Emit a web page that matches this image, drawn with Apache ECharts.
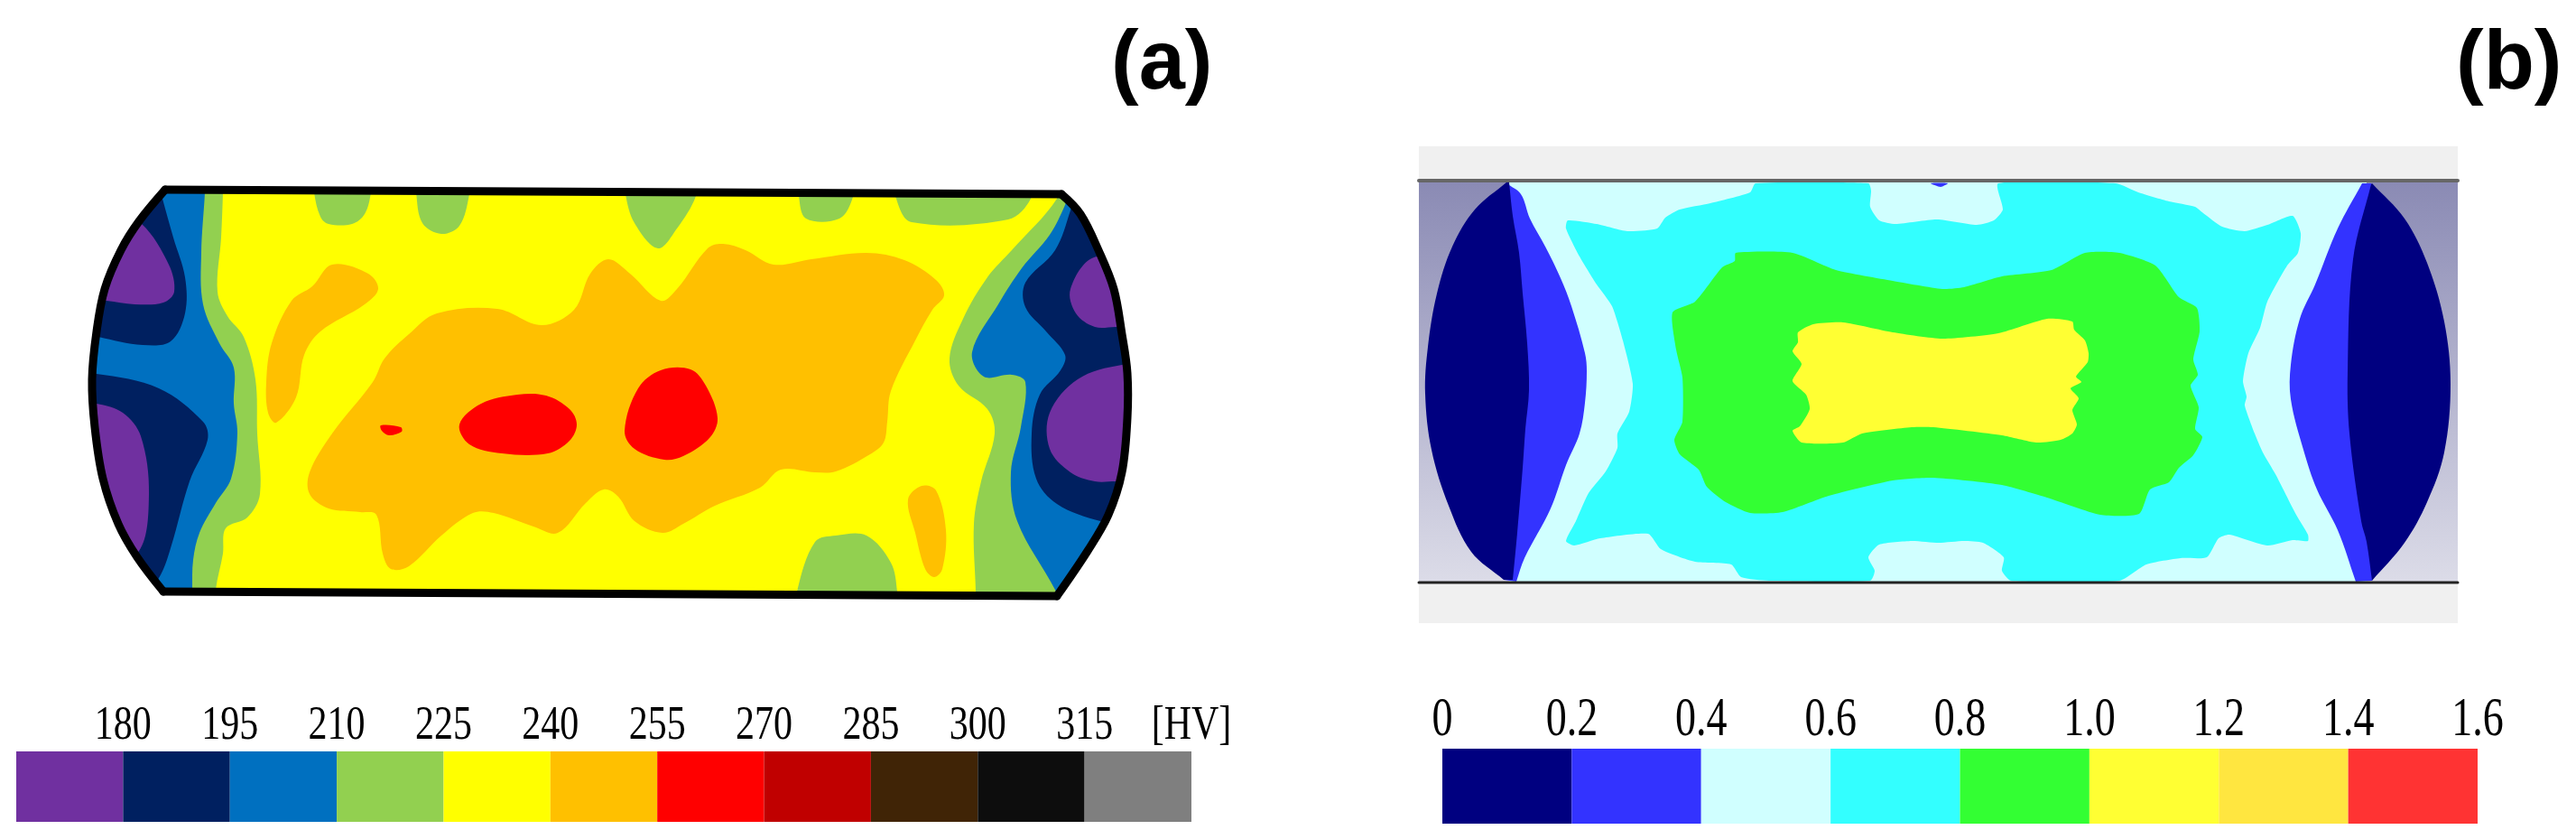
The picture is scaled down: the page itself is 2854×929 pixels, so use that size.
<!DOCTYPE html>
<html>
<head>
<meta charset="utf-8">
<style>html,body{margin:0;background:#fff}#main{width:2854px;height:929px}</style>
<script src="https://cdn.jsdelivr.net/npm/echarts@6/dist/echarts.min.js"></script>
</head>
<body>
<div id="main"></div>
<script>
// colour scale (a), hardness in HV
var hvEdges = [165, 180, 195, 210, 225, 240, 255, 270, 285, 300, 315, 330];
var hvColors = ['#7030a0', '#002060', '#0070c0', '#92d050', '#ffff00', '#ffc000', '#ff0000', '#c00000', '#402406', '#0d0d0d', '#7f7f7f'];
var hvTicks = [180, 195, 210, 225, 240, 255, 270, 285, 300, 315, 330];
var hvTickLabels = ['180', '195', '210', '225', '240', '255', '270', '285', '300', '315', '[HV]'];
// colour scale (b)
var bEdges = [0, 0.2, 0.4, 0.6, 0.8, 1.0, 1.2, 1.4, 1.6];
var bColors = ['#000080', '#3333ff', '#d0ffff', '#33ffff', '#33ff33', '#ffff33', '#ffe640', '#ff3333'];
var bTicks = [0, 0.2, 0.4, 0.6, 0.8, 1.0, 1.2, 1.4, 1.6];
var bTickLabels = ['0', '0.2', '0.4', '0.6', '0.8', '1.0', '1.2', '1.4', '1.6'];

// specimen outline (a)
var arcRight = [[1176,215],[1197,237],[1217,277],[1234,320],[1243,370],[1249,413],[1249,463],[1243,523],[1228,570],[1205,610],[1171,660]];
var arcLeft = [[183,210],[154,245],[134,277],[116,320],[107,367],[102,420],[105,473],[114,530],[131,580],[152,617],[181,655]];

// contour bands (a)
var aGreenLeft = [[247,200],[247,213],[245,263],[241,323],[252,350],[270,373],[283,420],[285,480],[288,547],[274,573],[250,585],[247,613],[239,653],[239,680],[60,680],[60,200]];
var aBlueLeft = [[227,200],[227,213],[223,280],[225,337],[243,380],[259,407],[259,447],[263,480],[256,530],[239,557],[221,590],[214,620],[213,653],[213,680],[60,680],[60,200]];
var aNavyTop = [[175,200],[180,220],[192,263],[205,307],[205,347],[189,378],[158,382],[109,373],[60,360],[60,200]];
var aPurpleTop = [[157,248],[187,293],[193,323],[181,335],[149,337],[118,333],[90,333],[120,230]];
var aNavyBottom = [[107,414],[176,430],[225,467],[230,487],[210,533],[189,607],[176,640],[150,670],[60,670],[60,414]];
var aPurpleBottom = [[107,447],[136,457],[156,483],[165,547],[154,610],[120,610],[80,447]];
var aOrangeLeft = [[368,293],[408,303],[419,320],[404,337],[355,367],[337,393],[328,440],[306,468],[297,457],[295,423],[301,380],[323,333],[346,317]];
var aOrangeMain = [[484,347],[551,342],[600,360],[636,343],[654,303],[674,287],[698,303],[732,333],[750,320],[784,275],[801,270],[826,277],[857,293],[899,287],[960,280],[1002,288],[1037,310],[1046,327],[1033,343],[1014,377],[987,433],[983,467],[979,490],[964,503],[926,522],[903,523],[865,520],[842,540],[792,560],[757,580],[734,590],[703,577],[685,550],[669,542],[649,557],[618,590],[591,583],[547,568],[524,568],[489,593],[453,627],[433,630],[424,613],[417,570],[399,567],[364,563],[343,547],[343,523],[368,480],[413,423],[426,397],[453,370]];
var aOrangeSmall = [[1006,553],[1021,538],[1037,543],[1048,587],[1044,630],[1035,639],[1025,630],[1014,590]];
var aRedDot = [[422,471],[444,473],[445,478],[431,482],[423,477]];
var aRedOne = [[509,470],[533,447],[573,437],[605,438],[631,453],[639,470],[631,488],[607,502],[556,502],[520,492]];
var aRedTwo = [[692,477],[707,430],[732,410],[765,409],[782,427],[795,463],[786,485],[757,505],[736,509],[703,497]];
var aGreenTop1 = [[348,195],[348,213],[355,240],[364,248],[390,248],[404,237],[411,213],[411,195]];
var aGreenTop2 = [[461,195],[461,213],[468,247],[489,259],[509,250],[520,215],[520,195]];
var aGreenTop3 = [[693,195],[693,215],[703,247],[729,275],[750,253],[771,217],[771,195]];
var aGreenTop4 = [[885,195],[885,217],[893,242],[930,242],[945,218],[945,195]];
var aGreenTop5 = [[993,195],[993,220],[1010,246],[1117,243],[1142,220],[1142,195]];
var aGreenBottom = [[883,680],[883,655],[903,600],[926,593],[960,593],[987,623],[994,655],[994,680]];
var aGreenRight = [[1171,220],[1121,277],[1094,307],[1067,353],[1052,397],[1062,427],[1094,453],[1102,480],[1087,533],[1079,580],[1081,655],[1081,680],[1290,680],[1290,200],[1171,200]];
var aBlueRight = [[1180,227],[1163,260],[1132,297],[1106,337],[1077,390],[1090,417],[1121,415],[1136,423],[1131,473],[1120,523],[1127,577],[1169,653],[1180,680],[1290,680],[1290,200],[1190,200]];
var aNavyRight = [[1186,233],[1169,277],[1136,313],[1136,340],[1159,367],[1180,393],[1175,410],[1152,437],[1143,480],[1148,530],[1171,558],[1219,577],[1290,590],[1290,200],[1195,200]];
var aPurpleRight1 = [[1212,285],[1186,320],[1192,347],[1213,362],[1236,362],[1280,362],[1280,285]];
var aPurpleRight2 = [[1243,404],[1194,420],[1163,457],[1163,497],[1186,523],[1213,533],[1236,533],[1290,533],[1290,404]];

// contour bands (b)
var bFrame = [[1572,162],[2723,162],[2723,690],[1572,690]];
var bBand = [[1572,200],[2723,200],[2723,645],[1572,645]];
var bPale = [[1672,202],[2622,202],[2622,644],[1672,644]];
var bCyan = [[1945,203],[1939,213],[1895,225],[1861,232],[1845,241],[1836,253],[1803,256],[1769,248],[1737,244],[1735,253],[1750,284],[1769,315],[1786,339],[1798,377],[1809,425],[1805,456],[1792,480],[1792,496],[1779,522],[1760,546],[1746,577],[1735,599],[1744,604],[1773,596],[1826,591],[1840,608],[1878,622],[1918,625],[1929,639],[1960,643],[2072,643],[2077,632],[2070,617],[2082,603],[2118,599],[2148,601],[2176,599],[2197,601],[2220,617],[2218,632],[2228,643],[2348,643],[2378,625],[2416,618],[2445,617],[2458,596],[2470,592],[2512,604],[2540,598],[2557,599],[2557,592],[2544,570],[2521,525],[2507,501],[2498,480],[2487,449],[2489,439],[2485,422],[2491,391],[2504,363],[2512,334],[2534,294],[2546,280],[2549,258],[2540,239],[2512,249],[2487,256],[2462,251],[2441,236],[2432,229],[2403,223],[2369,213],[2344,203],[2214,203],[2219,232],[2209,244],[2190,249],[2146,243],[2100,248],[2082,244],[2072,229],[2073,211],[2070,203]];
var bGreen = [[1923,280],[1986,280],[2034,299],[2097,311],[2152,320],[2176,318],[2218,306],[2273,299],[2310,280],[2348,280],[2388,294],[2414,329],[2434,341],[2437,367],[2430,398],[2435,415],[2427,427],[2436,451],[2432,475],[2440,484],[2430,504],[2414,518],[2403,534],[2382,542],[2370,569],[2327,570],[2268,551],[2218,537],[2142,529],[2097,532],[2026,549],[1975,567],[1939,568],[1912,556],[1891,539],[1882,520],[1861,503],[1855,487],[1864,467],[1864,418],[1857,387],[1853,346],[1878,334],[1908,296],[1922,289]];
var bYellow = [[1992,368],[2009,359],[2042,357],[2097,368],[2152,375],[2214,369],[2268,353],[2296,356],[2298,365],[2310,377],[2314,391],[2313,401],[2300,417],[2306,423],[2294,430],[2303,441],[2296,454],[2301,470],[2296,480],[2283,487],[2256,490],[2218,482],[2142,473],[2118,473],[2063,480],[2042,490],[1996,490],[1986,477],[1994,472],[2005,453],[2001,437],[1986,422],[1996,403],[1986,389],[1992,379]];
var bNib = [[2139,203],[2150,207],[2158,203]];
// tips of the lenses are listed twice to keep them pointed when smoothed
var bBlueLeft = [[1669,203],[1669,203],[1685,215],[1695,242],[1712,273],[1729,308],[1741,339],[1756,391],[1758,411],[1756,446],[1750,480],[1735,515],[1718,563],[1689,618],[1680,644],[1680,644],[1666,642],[1666,642]];
var bBlueRight = [[2617,203],[2617,203],[2590,253],[2565,315],[2548,353],[2538,404],[2538,442],[2552,498],[2567,542],[2590,587],[2610,644],[2610,644],[2628,643],[2628,643],[2627,203],[2627,203]];
var bNavyLeft = [[1669,202],[1669,202],[1634,232],[1609,273],[1592,325],[1582,384],[1579,436],[1586,498],[1605,560],[1630,611],[1666,642],[1666,642],[1676,642],[1676,642],[1681,590],[1687,518],[1690,475],[1694,432],[1692,380],[1687,325],[1683,280],[1676,239],[1672,202],[1672,202]];
var bNavyRight = [[2628,203],[2628,203],[2664,242],[2689,291],[2708,356],[2715,425],[2708,501],[2689,556],[2664,601],[2628,643],[2628,643],[2622,600],[2616,577],[2603,480],[2601,411],[2607,287],[2627,204],[2627,204]];
var bLineTop = [[1572,200],[2723,200]];
var bLineBottom = [[1572,645],[2723,645]];

var myChart = echarts.init(document.getElementById('main'));

// white sheet with a hole in the shape of the specimen, hides the overshoot of the bands
var outline = arcRight.concat(arcLeft.slice().reverse());
var maskBox = [[0,140],[1427,140],[1427,760],[0,760]];
var reversed = outline.slice().reverse();
var aMask = maskBox.concat([maskBox[0]], reversed, [reversed[0]]);

var layersA = [
    {pts: aGreenLeft, fill: '#92d050'}, {pts: aBlueLeft, fill: '#0070c0'},
    {pts: aNavyTop, fill: '#002060'}, {pts: aPurpleTop, fill: '#7030a0'},
    {pts: aNavyBottom, fill: '#002060'}, {pts: aPurpleBottom, fill: '#7030a0'},
    {pts: aGreenRight, fill: '#92d050'}, {pts: aBlueRight, fill: '#0070c0'},
    {pts: aNavyRight, fill: '#002060'}, {pts: aPurpleRight1, fill: '#7030a0'}, {pts: aPurpleRight2, fill: '#7030a0'},
    {pts: aGreenTop1, fill: '#92d050'}, {pts: aGreenTop2, fill: '#92d050'}, {pts: aGreenTop3, fill: '#92d050'},
    {pts: aGreenTop4, fill: '#92d050'}, {pts: aGreenTop5, fill: '#92d050'}, {pts: aGreenBottom, fill: '#92d050'},
    {pts: aOrangeLeft, fill: '#ffc000'}, {pts: aOrangeMain, fill: '#ffc000'}, {pts: aOrangeSmall, fill: '#ffc000'},
    {pts: aRedDot, fill: '#ff0000'}, {pts: aRedOne, fill: '#ff0000'}, {pts: aRedTwo, fill: '#ff0000'}
];

var bandFill = new echarts.graphic.LinearGradient(0, 0, 0, 1, [
    {offset: 0, color: '#8a8ab4'},
    {offset: 1, color: '#dcdce8'}
]);
var layersBack = [
    {pts: bFrame, fill: '#f0f0f0'}, {pts: bBand, fill: bandFill}, {pts: bPale, fill: '#d0ffff'}
];
var layersB = [
    {pts: bCyan, fill: '#33ffff'}, {pts: bGreen, fill: '#33ff33'}, {pts: bYellow, fill: '#ffff33'}, {pts: bNib, fill: '#3333ff'}
];
var layersLens = [
    {pts: bBlueLeft, fill: '#3333ff'}, {pts: bBlueRight, fill: '#3333ff'},
    {pts: bNavyLeft, fill: '#000080'}, {pts: bNavyRight, fill: '#000080'}
];

function bandSeries(layers, axisIndex, smooth) {
    return {
        type: 'custom',
        xAxisIndex: axisIndex,
        yAxisIndex: axisIndex,
        silent: true,
        data: layers.map(function (l, i) { return [i]; }),
        renderItem: function (params, api) {
            var l = layers[params.dataIndex];
            return {
                type: 'polygon',
                shape: {points: l.pts.map(function (p) { return api.coord(p); }), smooth: smooth, smoothConstraint: false},
                style: {fill: l.fill}
            };
        }
    };
}

function lineSeries(lines, axisIndex, color, width, smooth) {
    return {
        type: 'custom',
        xAxisIndex: axisIndex,
        yAxisIndex: axisIndex,
        silent: true,
        data: lines.map(function (l, i) { return [i]; }),
        renderItem: function (params, api) {
            return {
                type: 'polyline',
                shape: {points: lines[params.dataIndex].map(function (p) { return api.coord(p); }), smooth: smooth, smoothConstraint: false},
                style: {fill: null, stroke: color, lineWidth: width, lineCap: 'round'}
            };
        }
    };
}

function scaleSeries(edges, colors, axisIndex) {
    return {
        type: 'custom',
        xAxisIndex: axisIndex,
        yAxisIndex: axisIndex,
        silent: true,
        data: colors.map(function (c, i) { return [edges[i], edges[i + 1]]; }),
        renderItem: function (params, api) {
            var a = api.coord([api.value(0), 0]);
            var b = api.coord([api.value(1), 1]);
            return {
                type: 'rect',
                shape: {x: a[0], y: b[1], width: b[0] - a[0], height: a[1] - b[1]},
                style: {fill: colors[params.dataIndex]}
            };
        }
    };
}

// the printed tick labels are tall and narrow, so they are stretched upward
function tickSeries(ticks, labels, axisIndex, fontSize, stretch, gap) {
    return {
        type: 'custom',
        xAxisIndex: axisIndex,
        yAxisIndex: axisIndex,
        silent: true,
        data: ticks.map(function (t) { return [t]; }),
        renderItem: function (params, api) {
            var p = api.coord([api.value(0), 1]);
            return {
                type: 'text',
                x: p[0],
                y: p[1] - gap,
                scaleY: stretch,
                style: {
                    text: labels[params.dataIndex],
                    x: 0,
                    y: 0,
                    align: 'center',
                    verticalAlign: 'bottom',
                    fontFamily: 'Liberation Serif',
                    fontSize: fontSize,
                    fill: '#000'
                }
            };
        }
    };
}

option = {
    animation: false,
    backgroundColor: '#fff',
    title: [
        {text: '(a)', left: 1226, top: 22, textStyle: {fontFamily: 'Liberation Sans', fontWeight: 'bold', fontSize: 92, color: '#000'}},
        {text: '(b)', left: 2716, top: 22, textStyle: {fontFamily: 'Liberation Sans', fontWeight: 'bold', fontSize: 92, color: '#000'}}
    ],
    grid: [
        {left: 0, top: 0, width: 1427, height: 929},
        {left: 1427, top: 0, width: 1427, height: 929},
        {left: 18, top: 832, width: 1302, height: 78},
        {left: 1598, top: 829, width: 1147, height: 83}
    ],
    xAxis: [
        {gridIndex: 0, type: 'value', min: 0, max: 1427, show: false},
        {gridIndex: 1, type: 'value', min: 1427, max: 2854, show: false},
        {gridIndex: 2, type: 'value', min: 165, max: 330, interval: 15, show: false},
        {gridIndex: 3, type: 'value', min: 0, max: 1.6, interval: 0.2, show: false}
    ],
    yAxis: [
        {gridIndex: 0, type: 'value', min: 0, max: 929, inverse: true, show: false},
        {gridIndex: 1, type: 'value', min: 0, max: 929, inverse: true, show: false},
        {gridIndex: 2, type: 'value', min: 0, max: 1, show: false},
        {gridIndex: 3, type: 'value', min: 0, max: 1, show: false}
    ],
    series: [
        bandSeries([{pts: outline, fill: '#ffff00'}], 0, 0),
        bandSeries(layersA, 0, 0.35),
        bandSeries([{pts: aMask, fill: '#fff'}], 0, 0),
        lineSeries([arcLeft, arcRight], 0, '#000', 9, 0.35),
        lineSeries([[arcLeft[0], arcRight[0]], [arcLeft[arcLeft.length - 1], arcRight[arcRight.length - 1]]], 0, '#000', 9, 0),
        bandSeries(layersBack, 1, 0),
        bandSeries(layersB, 1, 0.2),
        bandSeries(layersLens, 1, 0.35),
        lineSeries([bLineTop], 1, '#666', 4, 0),
        lineSeries([bLineBottom], 1, '#222', 3, 0),
        scaleSeries(hvEdges, hvColors, 2),
        scaleSeries(bEdges, bColors, 3),
        tickSeries(hvTicks, hvTickLabels, 2, 42, 1.25, 2),
        tickSeries(bTicks, bTickLabels, 3, 46, 1.35, 0)
    ]
};

myChart.setOption(option);
</script>
</body>
</html>
